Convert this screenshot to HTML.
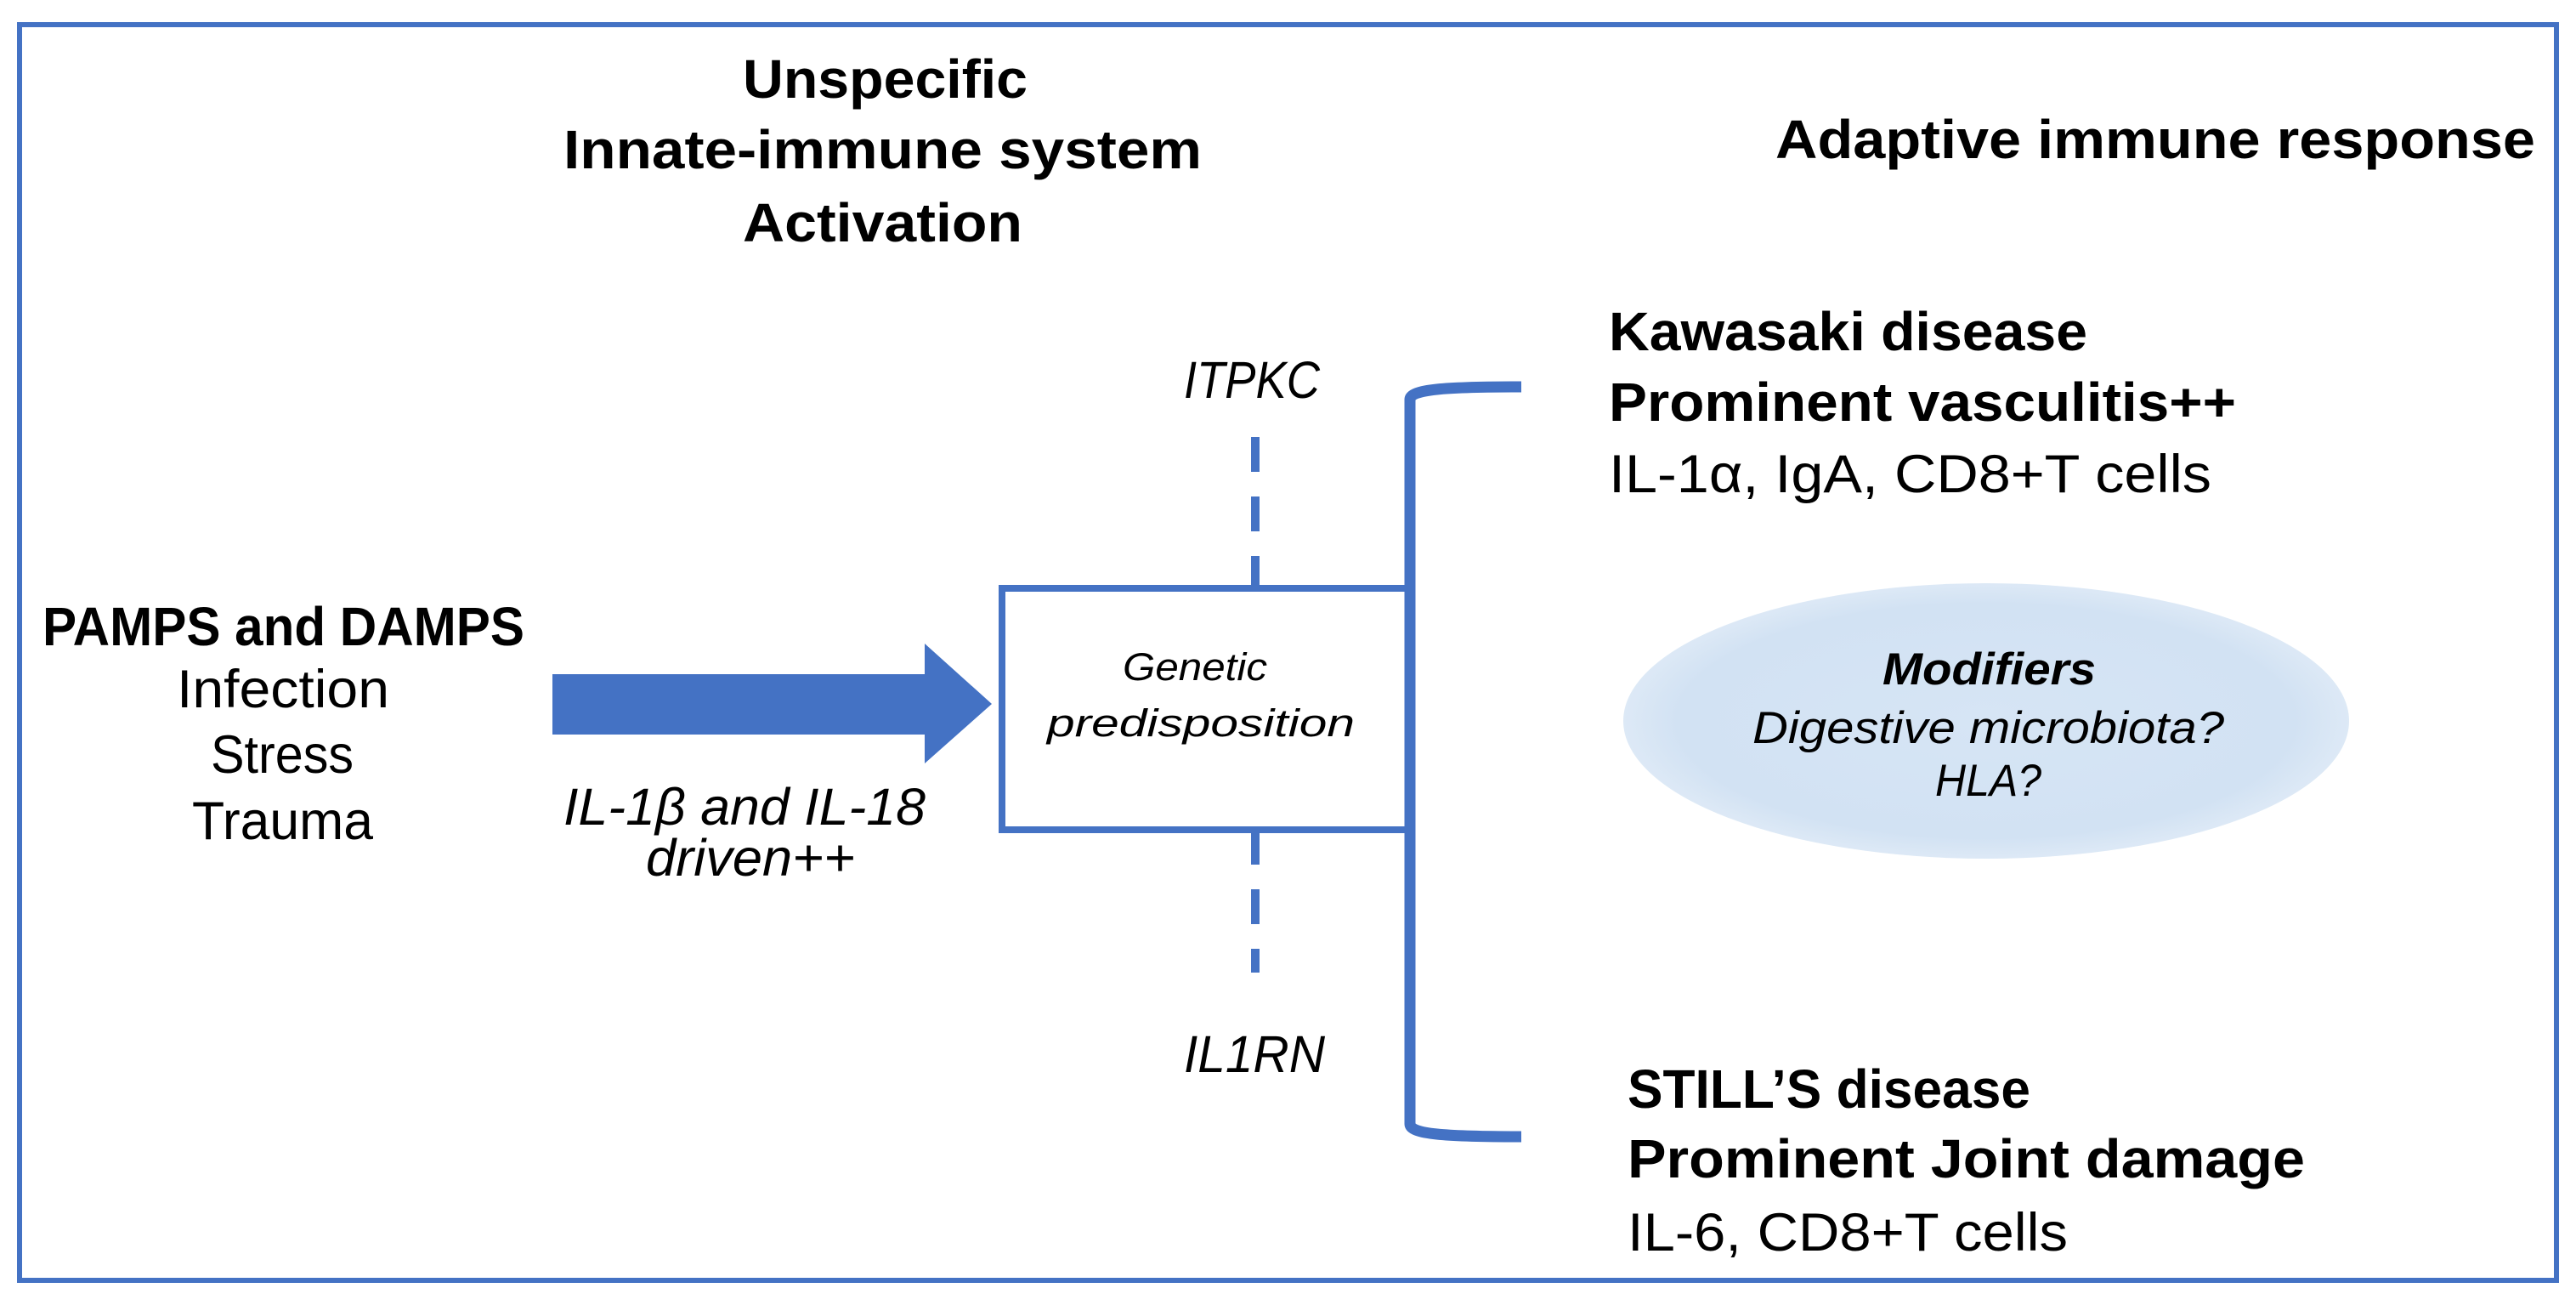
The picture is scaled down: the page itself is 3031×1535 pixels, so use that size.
<!DOCTYPE html>
<html><head><meta charset="utf-8"><style>html,body{margin:0;padding:0;background:#fff}svg{display:block}</style></head><body>
<svg width="3031" height="1535" viewBox="0 0 3031 1535" xmlns="http://www.w3.org/2000/svg" font-family="Liberation Sans, sans-serif" fill="#000">
<defs>
<radialGradient id="eg" cx="50%" cy="50%" r="50%">
<stop offset="0" stop-color="#d6e5f5"/><stop offset="0.85" stop-color="#d2e2f3"/><stop offset="1" stop-color="#dde9f6"/>
</radialGradient>
</defs>
<rect x="0" y="0" width="3031" height="1535" fill="#fff"/>
<rect x="23" y="29" width="2985" height="1477" fill="none" stroke="#4472c4" stroke-width="6"/>

<g font-weight="bold" font-size="64">
<text x="874" y="115" textLength="335" lengthAdjust="spacingAndGlyphs">Unspecific</text>
<text x="663" y="198" textLength="751" lengthAdjust="spacingAndGlyphs">Innate-immune system</text>
<text x="874" y="284" textLength="329" lengthAdjust="spacingAndGlyphs">Activation</text>
<text x="2089" y="186" textLength="894" lengthAdjust="spacingAndGlyphs">Adaptive immune response</text>
<text x="1893" y="412" textLength="563" lengthAdjust="spacingAndGlyphs">Kawasaki disease</text>
<text x="1893" y="495" textLength="738" lengthAdjust="spacingAndGlyphs">Prominent vasculitis++</text>
<text x="1915" y="1303" textLength="474" lengthAdjust="spacingAndGlyphs">STILL’S disease</text>
<text x="1915" y="1385" textLength="797" lengthAdjust="spacingAndGlyphs">Prominent Joint damage</text>
<text x="50" y="759" textLength="567" lengthAdjust="spacingAndGlyphs">PAMPS and DAMPS</text>
</g>
<g font-size="63">
<text x="1893" y="579" textLength="709" lengthAdjust="spacingAndGlyphs">IL-1α, IgA, CD8+T cells</text>
<text x="1915" y="1471" textLength="518" lengthAdjust="spacingAndGlyphs">IL-6, CD8+T cells</text>
<text x="208" y="832" textLength="250" lengthAdjust="spacingAndGlyphs">Infection</text>
<text x="248" y="909" textLength="168" lengthAdjust="spacingAndGlyphs">Stress</text>
<text x="226" y="987" textLength="213" lengthAdjust="spacingAndGlyphs">Trauma</text>
</g>
<g font-style="italic" font-size="61">
<text x="663" y="970" textLength="426" lengthAdjust="spacingAndGlyphs">IL-1β and IL-18</text>
<text x="760" y="1030" textLength="246" lengthAdjust="spacingAndGlyphs">driven++</text>
<text x="1393" y="468" textLength="160" lengthAdjust="spacingAndGlyphs">ITPKC</text>
<text x="1393" y="1261" textLength="166" lengthAdjust="spacingAndGlyphs">IL1RN</text>
</g>

<polygon points="650,793 1088,793 1088,757 1167,828 1088,898 1088,864 650,864" fill="#4472c4"/>

<line x1="1477" y1="514" x2="1477" y2="688" stroke="#4472c4" stroke-width="10" stroke-dasharray="41,29"/>
<line x1="1477" y1="976" x2="1477" y2="1144" stroke="#4472c4" stroke-width="10" stroke-dasharray="41,29"/>

<rect x="1179" y="692" width="478" height="284" fill="#fff" stroke="#4472c4" stroke-width="8"/>
<g font-style="italic" font-size="45">
<text x="1321" y="800" textLength="170" lengthAdjust="spacingAndGlyphs">Genetic</text>
<text x="1232" y="866" textLength="362" lengthAdjust="spacingAndGlyphs">predisposition</text>
</g>

<path d="M1790,455 C1700,455 1659,458 1659,470 L1659,1322 C1659,1334 1700,1337 1790,1337" fill="none" stroke="#4472c4" stroke-width="13"/>

<ellipse cx="2337" cy="848" rx="427" ry="162" fill="url(#eg)"/>
<g font-style="italic" font-size="53">
<text x="2215" y="805" font-weight="bold" textLength="251" lengthAdjust="spacingAndGlyphs">Modifiers</text>
<text x="2062" y="874" textLength="555" lengthAdjust="spacingAndGlyphs">Digestive microbiota?</text>
<text x="2277" y="936" textLength="125" lengthAdjust="spacingAndGlyphs">HLA?</text>
</g>
</svg>
</body></html>
